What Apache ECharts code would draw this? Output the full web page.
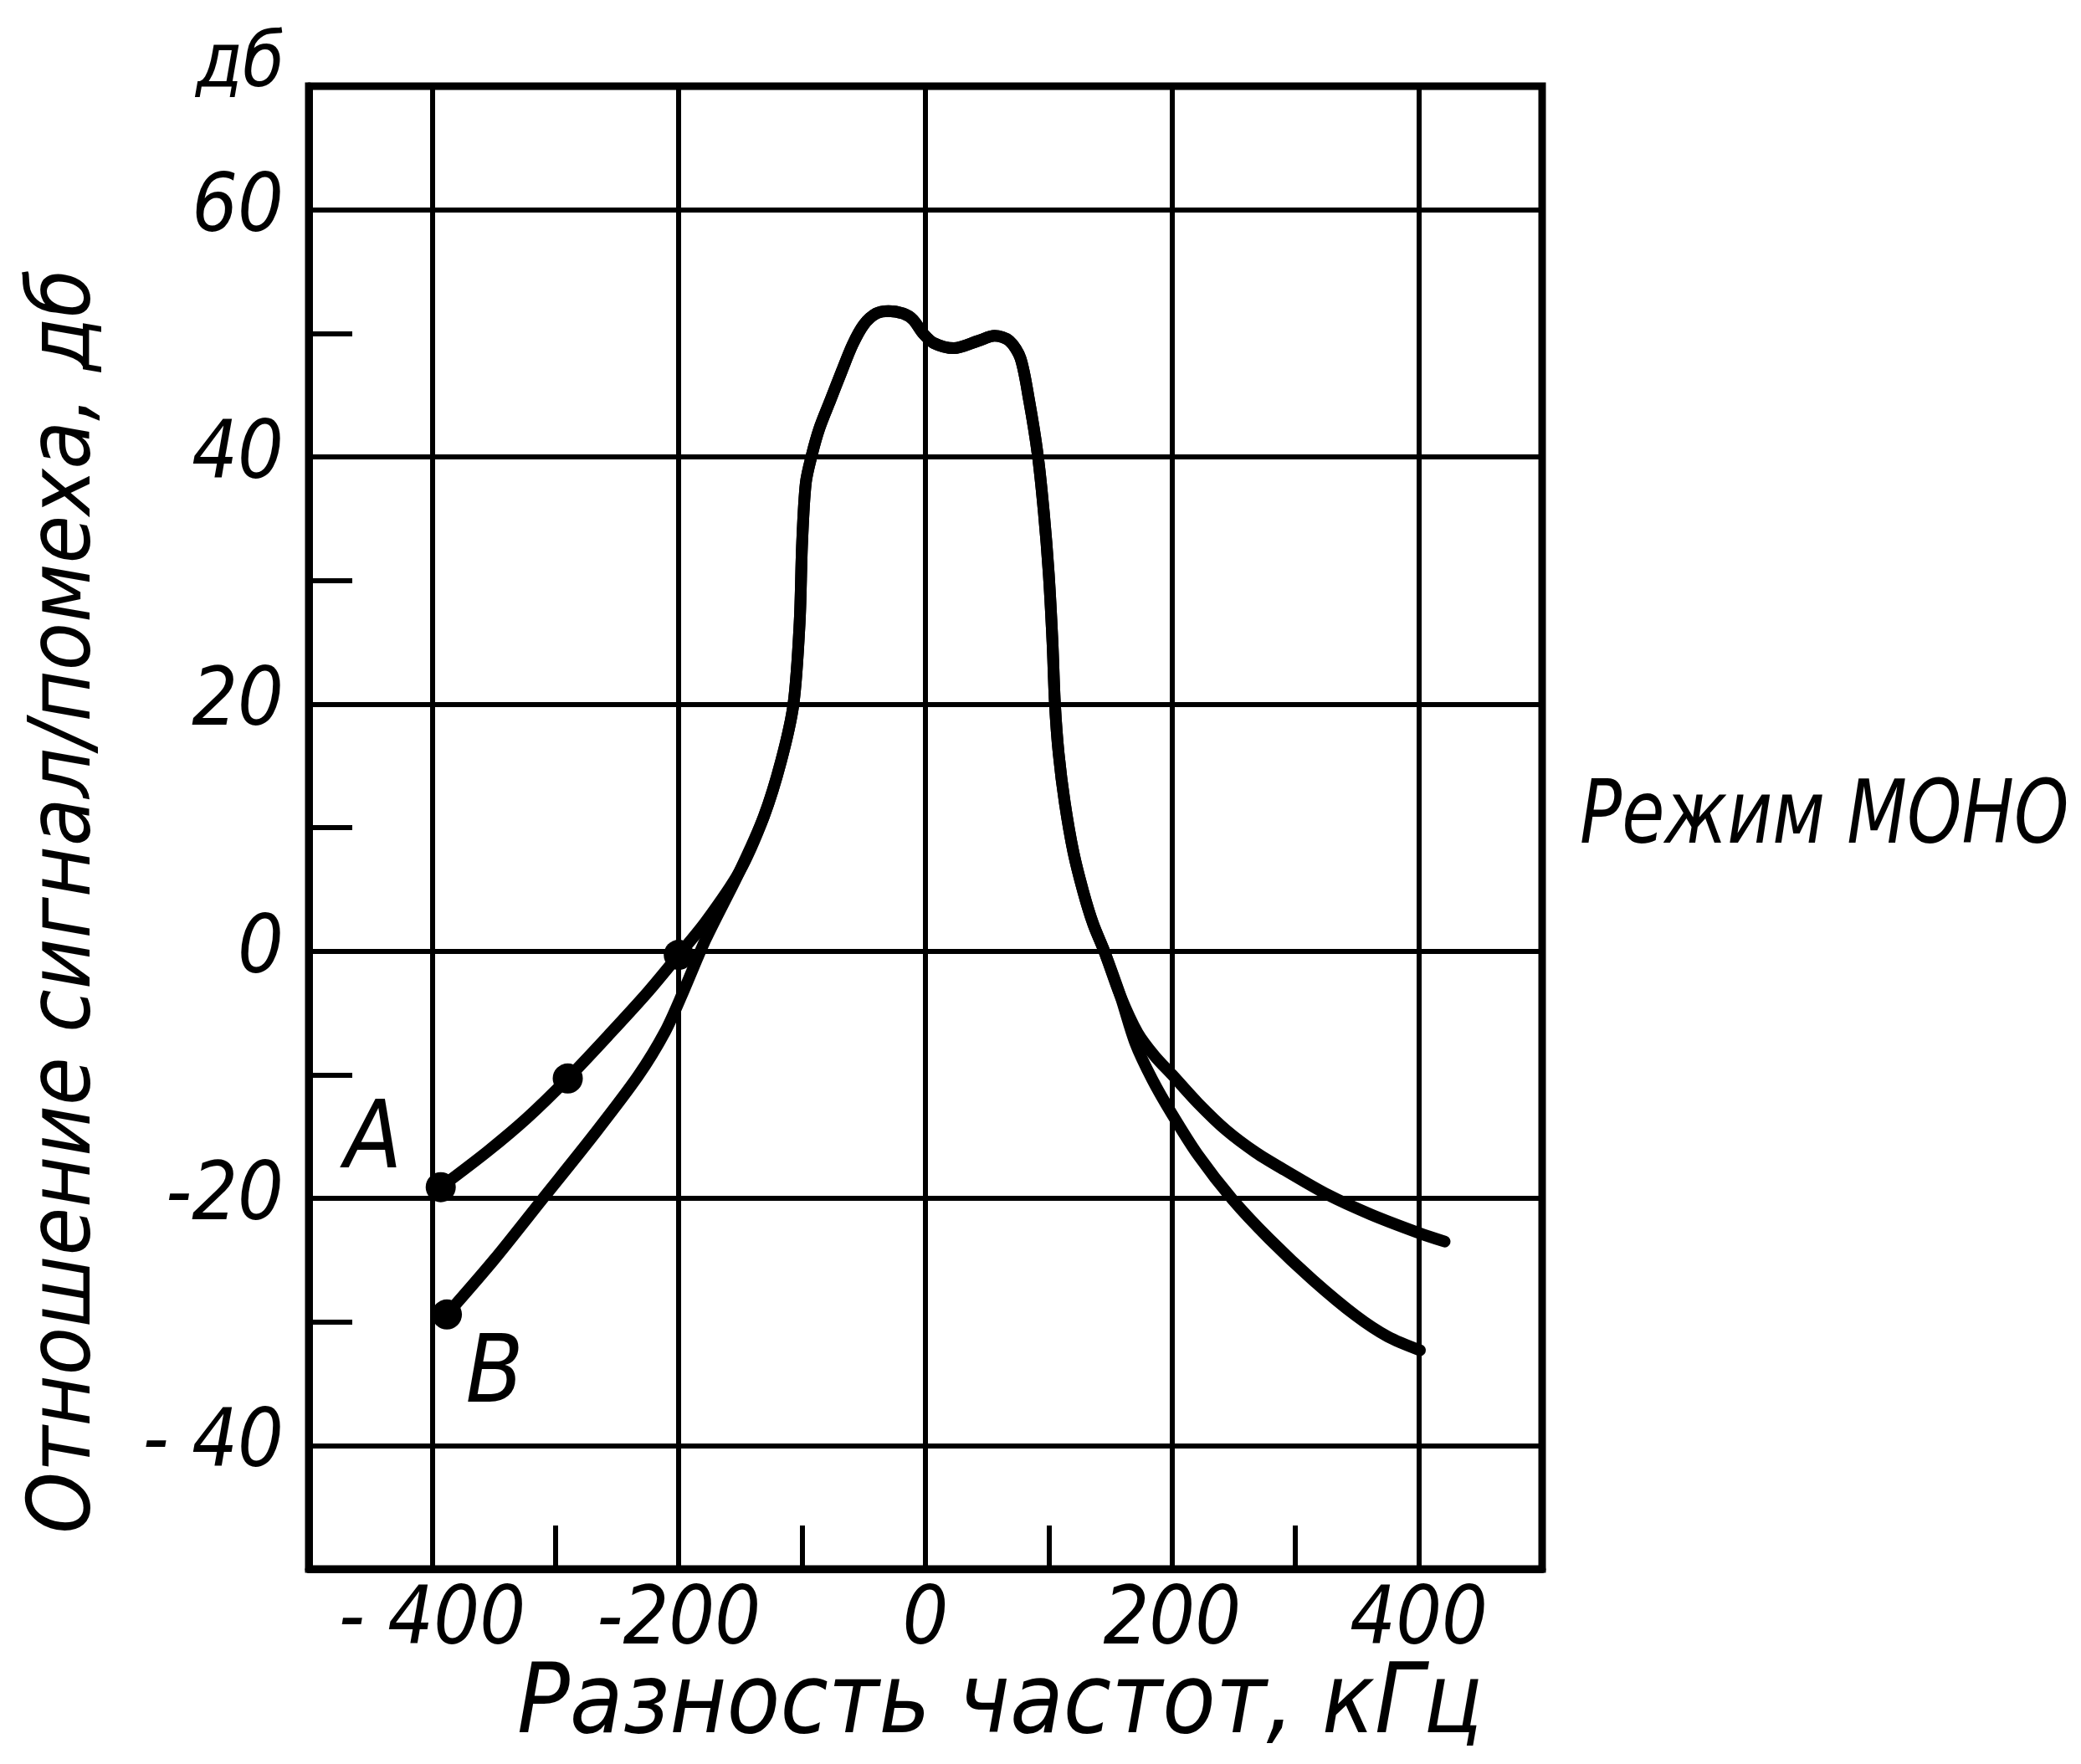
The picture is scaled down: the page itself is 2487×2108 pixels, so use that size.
<!DOCTYPE html>
<html>
<head>
<meta charset="utf-8">
<script src="https://cdn.jsdelivr.net/npm/echarts@6/dist/echarts.min.js"></script>
<style>
  html, body { margin: 0; padding: 0; background: #fff; }
  #chart { width: 2487px; height: 2108px; }
</style>
</head>
<body>
<div id="chart"></div>
<script>
// общая часть кривой (центральный пик), кГц / дБ
const peakFreq = [-151, -131, -117, -107, -102, -100, -97, -92, -86, -77, -68, -59, -50, -40, -30, -18, -10, -2, 7, 23, 43, 56, 68, 77, 84, 91, 96, 100, 103, 105, 108, 113, 120, 128, 136, 145, 158];
const peakSnr  = [6.4, 10.9, 15.4, 20.0, 26.6, 33.0, 37.9, 40.2, 42.3, 44.6, 46.9, 49.1, 50.7, 51.6, 51.8, 51.6, 51.1, 50.0, 49.2, 48.8, 49.4, 49.8, 49.4, 48.0, 44.6, 40.2, 35.5, 30.5, 25.0, 20.0, 16.0, 12.0, 8.0, 4.8, 2.2, 0.0, -3.6];

// кривая A
const aLeftFreq  = [-393, -355, -323, -290, -256, -225, -200, -178];
const aLeftSnr   = [-19.1, -16.2, -13.5, -10.3, -6.7, -3.3, -0.3, 2.4];
const aRightFreq = [172, 186, 200, 221, 244, 268, 291, 326, 361, 400, 421];
const aRightSnr  = [-6.6, -8.5, -10.0, -12.3, -14.5, -16.3, -17.7, -19.7, -21.3, -22.8, -23.5];

// кривая B
const bLeftFreq  = [-388, -350, -310, -270, -233, -211, -196, -178];
const bLeftSnr   = [-29.4, -25.0, -20.0, -15.0, -10.1, -6.5, -3.2, 1.0];
const bRightFreq = [170, 184, 200, 221, 249, 279, 314, 349, 375, 401];
const bRightSnr  = [-7.4, -10.4, -13.2, -16.5, -20.1, -23.3, -26.6, -29.5, -31.2, -32.3];

// точки измерений
const dotFreq = [-393, -290, -200, -388];
const dotSnr  = [-19.1, -10.3, -0.3, -29.4];

// подписи делений
const xLabelValues = [-400, -200, 0, 200, 400];
const xLabelText   = ['- 400', '-200', '0', '200', '400'];
const yLabelValues = [-40, -20, 0, 20, 40, 60];
const yLabelText   = ['- 40', '-20', '0', '20', '40', '60'];

function zip(xs, ys) {
  let out = [];
  for (let i = 0; i < xs.length; i++) out.push([xs[i], ys[i]]);
  return out;
}

const curveA = zip(aLeftFreq, aLeftSnr).concat(zip(peakFreq, peakSnr), zip(aRightFreq, aRightSnr));
const curveB = zip(bLeftFreq, bLeftSnr).concat(zip(peakFreq, peakSnr), zip(bRightFreq, bRightSnr));

const FONT = '"DejaVu Sans Condensed", "Liberation Sans Narrow", "DejaVu Sans", sans-serif';

let myChart = echarts.init(document.getElementById('chart'));

const lineStyle = { color: '#000', width: 14, cap: 'round', join: 'round' };

var option = {
  backgroundColor: '#fff',
  animation: false,
  grid: {
    left: 369, top: 103, width: 1474, height: 1772,
    show: true, borderColor: '#000', borderWidth: 9
  },
  xAxis: {
    type: 'value',
    min: -500, max: 500, interval: 100,
    axisLine: { onZero: false, lineStyle: { color: '#000', width: 9 } },
    axisTick: { inside: true, length: 52, lineStyle: { color: '#000', width: 6 } },
    axisLabel: {
      margin: 16,
      color: '#000', fontSize: 96, fontStyle: 'italic', fontFamily: FONT,
      formatter: function (v) {
        let i = xLabelValues.indexOf(v);
        return i < 0 ? '' : xLabelText[i];
      }
    },
    // каждая вторая линия сетки — сплошная
    splitLine: { show: true, lineStyle: { color: ['rgba(0,0,0,0)', '#000'], width: 6 } }
  },
  yAxis: {
    type: 'value',
    min: -50, max: 70, interval: 10,
    axisLine: { onZero: false, lineStyle: { color: '#000', width: 9 } },
    axisTick: { inside: true, length: 52, lineStyle: { color: '#000', width: 6 } },
    axisLabel: {
      margin: 30,
      color: '#000', fontSize: 96, fontStyle: 'italic', fontFamily: FONT,
      formatter: function (v) {
        let i = yLabelValues.indexOf(v);
        return i < 0 ? '' : yLabelText[i];
      }
    },
    splitLine: { show: true, lineStyle: { color: ['rgba(0,0,0,0)', '#000'], width: 6 } }
  },
  series: [
    { name: 'A', type: 'line', data: curveA, smooth: 0.3, symbol: 'none', lineStyle: lineStyle, z: 3 },
    { name: 'B', type: 'line', data: curveB, smooth: 0.3, symbol: 'none', lineStyle: lineStyle, z: 3 },
    {
      type: 'scatter', data: zip(dotFreq, dotSnr),
      symbolSize: 36, itemStyle: { color: '#000', opacity: 1 }, z: 4
    }
  ],
  graphic: [
    { type: 'text', x: 340, y: 80, style: { text: 'дб', font: 'italic 90px ' + FONT, align: 'right', verticalAlign: 'middle', fill: '#000' } },
    { type: 'text', x: 80, y: 1077, rotation: Math.PI / 2, style: { text: 'Отношение сигнал/помеха, дб', font: 'italic 104px ' + FONT, align: 'center', verticalAlign: 'middle', fill: '#000' } },
    { type: 'text', x: 1195, y: 2040, style: { text: 'Разность частот, кГц', font: 'italic 116px ' + FONT, align: 'center', verticalAlign: 'middle', fill: '#000' } },
    { type: 'text', x: 1888, y: 980, scaleX: 0.88, style: { text: 'Режим МОНО', font: 'italic 105px ' + FONT, align: 'left', verticalAlign: 'middle', fill: '#000' } },
    { type: 'text', x: 446, y: 1366, style: { text: 'A', font: 'italic 112px ' + FONT, align: 'center', verticalAlign: 'middle', fill: '#000' } },
    { type: 'text', x: 591, y: 1646, style: { text: 'B', font: 'italic 112px ' + FONT, align: 'center', verticalAlign: 'middle', fill: '#000' } }
  ]
};

myChart.setOption(option);
</script>
</body>
</html>
